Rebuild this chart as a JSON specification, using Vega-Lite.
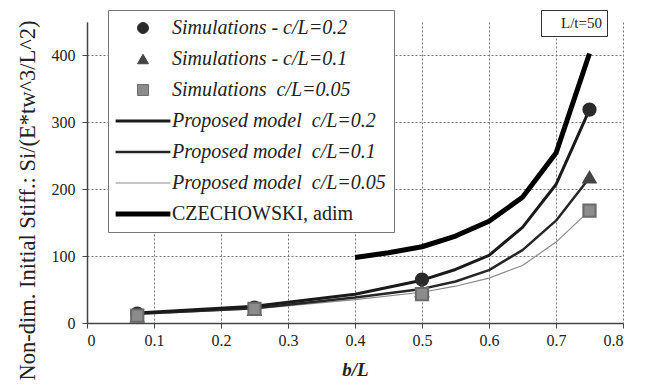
{
  "$schema": "https://vega.github.io/schema/vega-lite/v6.json",
  "width": 536,
  "height": 301,
  "autosize": {"type": "none"},
  "padding": {"left": 87, "top": 22, "right": 30, "bottom": 66},
  "background": "white",
  "config": {
    "view": {"stroke": null},
    "font": "Liberation Serif",
    "axis": {
      "labelFont": "Liberation Serif",
      "titleFont": "Liberation Serif",
      "labelFontSize": 16,
      "labelColor": "#222",
      "titleColor": "#222",
      "domainColor": "#444",
      "domainWidth": 1.5,
      "tickColor": "#444",
      "tickSize": 5,
      "grid": true,
      "gridColor": "#777777",
      "gridDash": [2, 2],
      "gridWidth": 1,
      "gridOpacity": 1
    },
    "legend": {
      "labelFont": "Liberation Serif",
      "labelColor": "#222",
      "labelLimit": 400
    }
  },
  "datasets": {
    "sims": [
      {"series": "Simulations - c/L=0.2", "b": 0.075, "v": 14},
      {"series": "Simulations - c/L=0.2", "b": 0.25, "v": 23},
      {"series": "Simulations - c/L=0.2", "b": 0.5, "v": 65},
      {"series": "Simulations - c/L=0.2", "b": 0.75, "v": 319},
      {"series": "Simulations - c/L=0.1", "b": 0.075, "v": 10},
      {"series": "Simulations - c/L=0.1", "b": 0.25, "v": 20},
      {"series": "Simulations - c/L=0.1", "b": 0.5, "v": 48},
      {"series": "Simulations - c/L=0.1", "b": 0.75, "v": 218},
      {"series": "Simulations \u00a0c/L=0.05", "b": 0.075, "v": 11},
      {"series": "Simulations \u00a0c/L=0.05", "b": 0.25, "v": 21},
      {"series": "Simulations \u00a0c/L=0.05", "b": 0.5, "v": 43},
      {"series": "Simulations \u00a0c/L=0.05", "b": 0.75, "v": 168}
    ],
    "models": [
      {"series": "Proposed model \u00a0c/L=0.05", "b": 0.075, "v": 13},
      {"series": "Proposed model \u00a0c/L=0.05", "b": 0.25, "v": 21},
      {"series": "Proposed model \u00a0c/L=0.05", "b": 0.4, "v": 35},
      {"series": "Proposed model \u00a0c/L=0.05", "b": 0.5, "v": 46},
      {"series": "Proposed model \u00a0c/L=0.05", "b": 0.55, "v": 55},
      {"series": "Proposed model \u00a0c/L=0.05", "b": 0.6, "v": 67},
      {"series": "Proposed model \u00a0c/L=0.05", "b": 0.65, "v": 86},
      {"series": "Proposed model \u00a0c/L=0.05", "b": 0.7, "v": 121},
      {"series": "Proposed model \u00a0c/L=0.05", "b": 0.75, "v": 168},
      {"series": "Proposed model \u00a0c/L=0.1", "b": 0.075, "v": 14},
      {"series": "Proposed model \u00a0c/L=0.1", "b": 0.25, "v": 22},
      {"series": "Proposed model \u00a0c/L=0.1", "b": 0.4, "v": 38},
      {"series": "Proposed model \u00a0c/L=0.1", "b": 0.5, "v": 51},
      {"series": "Proposed model \u00a0c/L=0.1", "b": 0.55, "v": 62},
      {"series": "Proposed model \u00a0c/L=0.1", "b": 0.6, "v": 79},
      {"series": "Proposed model \u00a0c/L=0.1", "b": 0.65, "v": 109},
      {"series": "Proposed model \u00a0c/L=0.1", "b": 0.7, "v": 153},
      {"series": "Proposed model \u00a0c/L=0.1", "b": 0.75, "v": 217},
      {"series": "Proposed model \u00a0c/L=0.2", "b": 0.075, "v": 15},
      {"series": "Proposed model \u00a0c/L=0.2", "b": 0.25, "v": 25},
      {"series": "Proposed model \u00a0c/L=0.2", "b": 0.4, "v": 43},
      {"series": "Proposed model \u00a0c/L=0.2", "b": 0.5, "v": 64},
      {"series": "Proposed model \u00a0c/L=0.2", "b": 0.55, "v": 80},
      {"series": "Proposed model \u00a0c/L=0.2", "b": 0.6, "v": 101},
      {"series": "Proposed model \u00a0c/L=0.2", "b": 0.65, "v": 143},
      {"series": "Proposed model \u00a0c/L=0.2", "b": 0.7, "v": 207},
      {"series": "Proposed model \u00a0c/L=0.2", "b": 0.75, "v": 319},
      {"series": "CZECHOWSKI, adim", "b": 0.4, "v": 98},
      {"series": "CZECHOWSKI, adim", "b": 0.45, "v": 105},
      {"series": "CZECHOWSKI, adim", "b": 0.5, "v": 114},
      {"series": "CZECHOWSKI, adim", "b": 0.55, "v": 130},
      {"series": "CZECHOWSKI, adim", "b": 0.6, "v": 152},
      {"series": "CZECHOWSKI, adim", "b": 0.65, "v": 188},
      {"series": "CZECHOWSKI, adim", "b": 0.7, "v": 254},
      {"series": "CZECHOWSKI, adim", "b": 0.75, "v": 403}
    ],
    "note": [{"note": "L/t=50"}]
  },
  "layer": [
    {
      "data": {"name": "models"},
      "mark": {"type": "line", "strokeJoin": "round", "strokeCap": "butt"},
      "encoding": {
        "x": {
          "field": "b", "type": "quantitative", "title": "b/L",
          "scale": {"domain": [0, 0.8], "nice": false},
          "axis": {
            "grid": true,
            "values": [0, 0.1, 0.2, 0.3, 0.4, 0.5, 0.6, 0.7, 0.8],
            "format": "~g",
            "labelPadding": 4,
            "title": "b/L",
            "titleFontSize": 19,
            "titleFontStyle": "italic",
            "titleFontWeight": "bold",
            "titlePadding": 12
          }
        },
        "y": {
          "field": "v", "type": "quantitative", "title": "Non-dim. Initial Stiff.: Si/(E*tw^3/L^2)",
          "scale": {"domain": [0, 450], "nice": false},
          "axis": {
            "grid": true,
            "values": [0, 50, 100, 150, 200, 250, 300, 350, 400, 450],
            "labelPadding": 7,
            "title": "Non-dim. Initial Stiff.: Si/(E*tw^3/L^2)",
            "titleFontSize": 22.5,
            "titleFontWeight": "normal",
            "titleAlign": "center",
            "titleBaseline": "middle",
            "titleAngle": -90,
            "titleX": -60,
            "titleY": 178
          }
        },
        "detail": {"field": "series", "type": "nominal"},
        "stroke": {
          "field": "series", "type": "nominal",
          "scale": {
            "domain": ["Simulations - c/L=0.2", "Simulations - c/L=0.1", "Simulations \u00a0c/L=0.05", "Proposed model \u00a0c/L=0.2", "Proposed model \u00a0c/L=0.1", "Proposed model \u00a0c/L=0.05", "CZECHOWSKI, adim"],
            "range": ["#2a2a2a", "#444444", "#6a6a6a", "#1a1a1a", "#262626", "#8a8a8a", "#000000"]
          },
          "legend": {
            "orient": "none",
            "legendX": 21,
            "legendY": -12,
            "title": null,
            "labelFontSize": 20,
            "labelLimit": 400,
            "symbolSize": 120,
            "symbolOffset": 17,
            "labelOffset": 19,
            "rowPadding": 11,
            "padding": 8,
            "strokeColor": "#777",
            "fillColor": "white",
            "symbolOpacity": 1,
            "encode": {
              "labels": {
                "update": {
                  "fontStyle": {"signal": "datum.label === 'CZECHOWSKI, adim' ? 'normal' : 'italic'"}
                }
              }
            }
          }
        },
        "strokeWidth": {
          "field": "series", "type": "ordinal",
          "scale": {
            "type": "ordinal",
            "domain": ["Simulations - c/L=0.2", "Simulations - c/L=0.1", "Simulations \u00a0c/L=0.05", "Proposed model \u00a0c/L=0.2", "Proposed model \u00a0c/L=0.1", "Proposed model \u00a0c/L=0.05", "CZECHOWSKI, adim"],
            "range": [1, 1, 1, 3, 2.5, 1.2, 5]
          }
        }
      }
    },
    {
      "data": {"name": "sims"},
      "mark": {"type": "point", "filled": true, "opacity": 1, "size": 150},
      "encoding": {
        "x": {"field": "b", "type": "quantitative", "title": "b/L"},
        "y": {"field": "v", "type": "quantitative", "title": "Non-dim. Initial Stiff.: Si/(E*tw^3/L^2)"},
        "fill": {
          "field": "series", "type": "nominal",
          "scale": {
            "domain": ["Simulations - c/L=0.2", "Simulations - c/L=0.1", "Simulations \u00a0c/L=0.05", "Proposed model \u00a0c/L=0.2", "Proposed model \u00a0c/L=0.1", "Proposed model \u00a0c/L=0.05", "CZECHOWSKI, adim"],
            "range": ["#2a2a2a", "#444444", "#8c8c8c", "#1a1a1a", "#262626", "#8a8a8a", "#000000"]
          }
        },
        "stroke": {"field": "series", "type": "nominal"},
        "shape": {
          "field": "series", "type": "nominal",
          "scale": {
            "domain": ["Simulations - c/L=0.2", "Simulations - c/L=0.1", "Simulations \u00a0c/L=0.05", "Proposed model \u00a0c/L=0.2", "Proposed model \u00a0c/L=0.1", "Proposed model \u00a0c/L=0.05", "CZECHOWSKI, adim"],
            "range": ["circle", "triangle-up", "square", "M-5,0H5", "M-5,0H5", "M-5,0H5", "M-5,0H5"]
          }
        }
      }
    },
    {
      "data": {"name": "note"},
      "mark": {"type": "point", "size": 0, "filled": true},
      "encoding": {
        "opacity": {
          "field": "note", "type": "nominal",
          "scale": {"range": [0]},
          "legend": {
            "orient": "none",
            "legendX": 454,
            "legendY": -12,
            "title": null,
            "labelFontSize": 15,
            "labelFontStyle": "normal",
            "symbolSize": 0,
            "symbolStrokeWidth": 0,
            "symbolType": "M0,0",
            "labelOffset": 0,
            "symbolOffset": 0,
            "padding": 5,
            "strokeColor": "#333",
            "fillColor": "white"
          }
        }
      }
    }
  ]
}
